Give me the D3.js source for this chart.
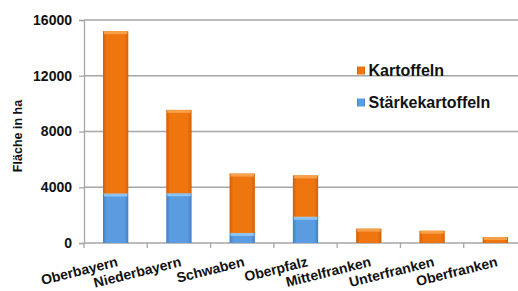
<!DOCTYPE html>
<html lang="de">
<head>
<meta charset="UTF-8" />
<script src="https://d3js.org/d3.v7.min.js"></script>
<style>
  body { margin: 0; background: #fff; }
  text { font-family: "Liberation Sans", Arial, sans-serif; font-weight: bold; fill: #111; }
</style>
</head>
<body>
<svg id="chart" width="518" height="291"></svg>
<script>
const regions = ['Oberbayern', 'Niederbayern', 'Schwaben', 'Oberpfalz', 'Mittelfranken', 'Unterfranken', 'Oberfranken'];
const staerke = [3550, 3570, 720, 1880, 0, 0, 0];
const kartoffelnTotal = [15200, 9550, 4980, 4850, 1030, 880, 430];
const yTicks = [0, 4000, 8000, 12000, 16000];

const svg = d3.select('#chart');
const margin = { top: 20, left: 84, bottom: 48 };
const plotRight = 527;

const x = d3.scaleBand().domain(regions).range([margin.left, plotRight]).paddingInner(0.6).paddingOuter(0.3);
const y = d3.scaleLinear().domain([0, 16000]).range([243, margin.top]);

// gradients
const defs = svg.append('defs');
const grad = (id, dark, mid) => {
  const g = defs.append('linearGradient').attr('id', id).attr('x1', 0).attr('x2', 1);
  g.append('stop').attr('offset', '0%').attr('stop-color', dark);
  g.append('stop').attr('offset', '15%').attr('stop-color', mid);
  g.append('stop').attr('offset', '85%').attr('stop-color', mid);
  g.append('stop').attr('offset', '100%').attr('stop-color', dark);
};
grad('orange', '#d35f08', '#ef750f');
grad('blue', '#3f7fc8', '#5b9be0');

// grid
svg.append('g').selectAll('line').data(yTicks.slice(1)).enter().append('line')
  .attr('x1', margin.left).attr('x2', plotRight)
  .attr('y1', d => y(d)).attr('y2', d => y(d))
  .attr('stroke', '#a6a6a6').attr('stroke-width', 1.3);

// y axis
const yAxis = svg.append('g').attr('transform', `translate(${margin.left},0)`)
  .call(d3.axisLeft(y).tickValues(yTicks).tickFormat(d3.format('d')).tickSize(5).tickPadding(7));
yAxis.select('.domain').attr('stroke', '#a6a6a6').attr('stroke-width', 1.3);
yAxis.selectAll('.tick line').attr('stroke', '#a6a6a6').attr('stroke-width', 1.3);
yAxis.selectAll('text').style('font-size', '14px').attr('fill', '#111');

// x axis
const xAxisG = svg.append('g').attr('transform', `translate(0,${y(0)})`);
xAxisG.append('line').attr('x1', margin.left).attr('x2', plotRight)
  .attr('stroke', '#a6a6a6').attr('stroke-width', 1.3);
xAxisG.selectAll('.sep').data(d3.range(regions.length + 1)).enter().append('line')
  .attr('x1', i => margin.left + i * (plotRight - margin.left) / regions.length)
  .attr('x2', i => margin.left + i * (plotRight - margin.left) / regions.length)
  .attr('y1', 0).attr('y2', 5)
  .attr('stroke', '#a6a6a6').attr('stroke-width', 1.3);
xAxisG.selectAll('.lbl').data(regions).enter().append('text')
  .attr('text-anchor', 'end')
  .attr('transform', d => `translate(${x(d) + x.bandwidth() / 2 + 3},23) rotate(-14)`)
  .style('font-size', '14px')
  .text(d => d);

// bars
const bars = svg.append('g');
regions.forEach((r, i) => {
  const bx = x(r), bw = x.bandwidth();
  if (staerke[i] > 0) {
    bars.append('rect').attr('x', bx).attr('width', bw)
      .attr('y', y(staerke[i])).attr('height', y(0) - y(staerke[i]))
      .attr('fill', 'url(#blue)');
    bars.append('rect').attr('x', bx + 1).attr('width', bw - 2)
      .attr('y', y(staerke[i])).attr('height', 3).attr('fill', '#8cc4f4');
  }
  bars.append('rect').attr('x', bx).attr('width', bw)
    .attr('y', y(kartoffelnTotal[i])).attr('height', y(staerke[i]) - y(kartoffelnTotal[i]))
    .attr('fill', 'url(#orange)');
  bars.append('rect').attr('x', bx + 1).attr('width', bw - 2)
    .attr('y', y(kartoffelnTotal[i])).attr('height', 3).attr('fill', '#f7a04a');
});

// y title
svg.append('text')
  .attr('transform', 'translate(22,136) rotate(-90)')
  .attr('text-anchor', 'middle')
  .style('font-size', '12.5px')
  .text('Fläche in ha');

// legend
const legend = [
  { name: 'Kartoffeln', fill: 'url(#orange)', top: 66.5 },
  { name: 'Stärkekartoffeln', fill: 'url(#blue)', top: 98.5 }
];
const lg = svg.append('g');
legend.forEach(l => {
  lg.append('rect').attr('x', 357).attr('y', l.top).attr('width', 8).attr('height', 8).attr('fill', l.fill);
  lg.append('text').attr('x', 368.5).attr('y', l.top + 9.5)
    .style('font-size', '16px').text(l.name);
});
</script>
</body>
</html>
